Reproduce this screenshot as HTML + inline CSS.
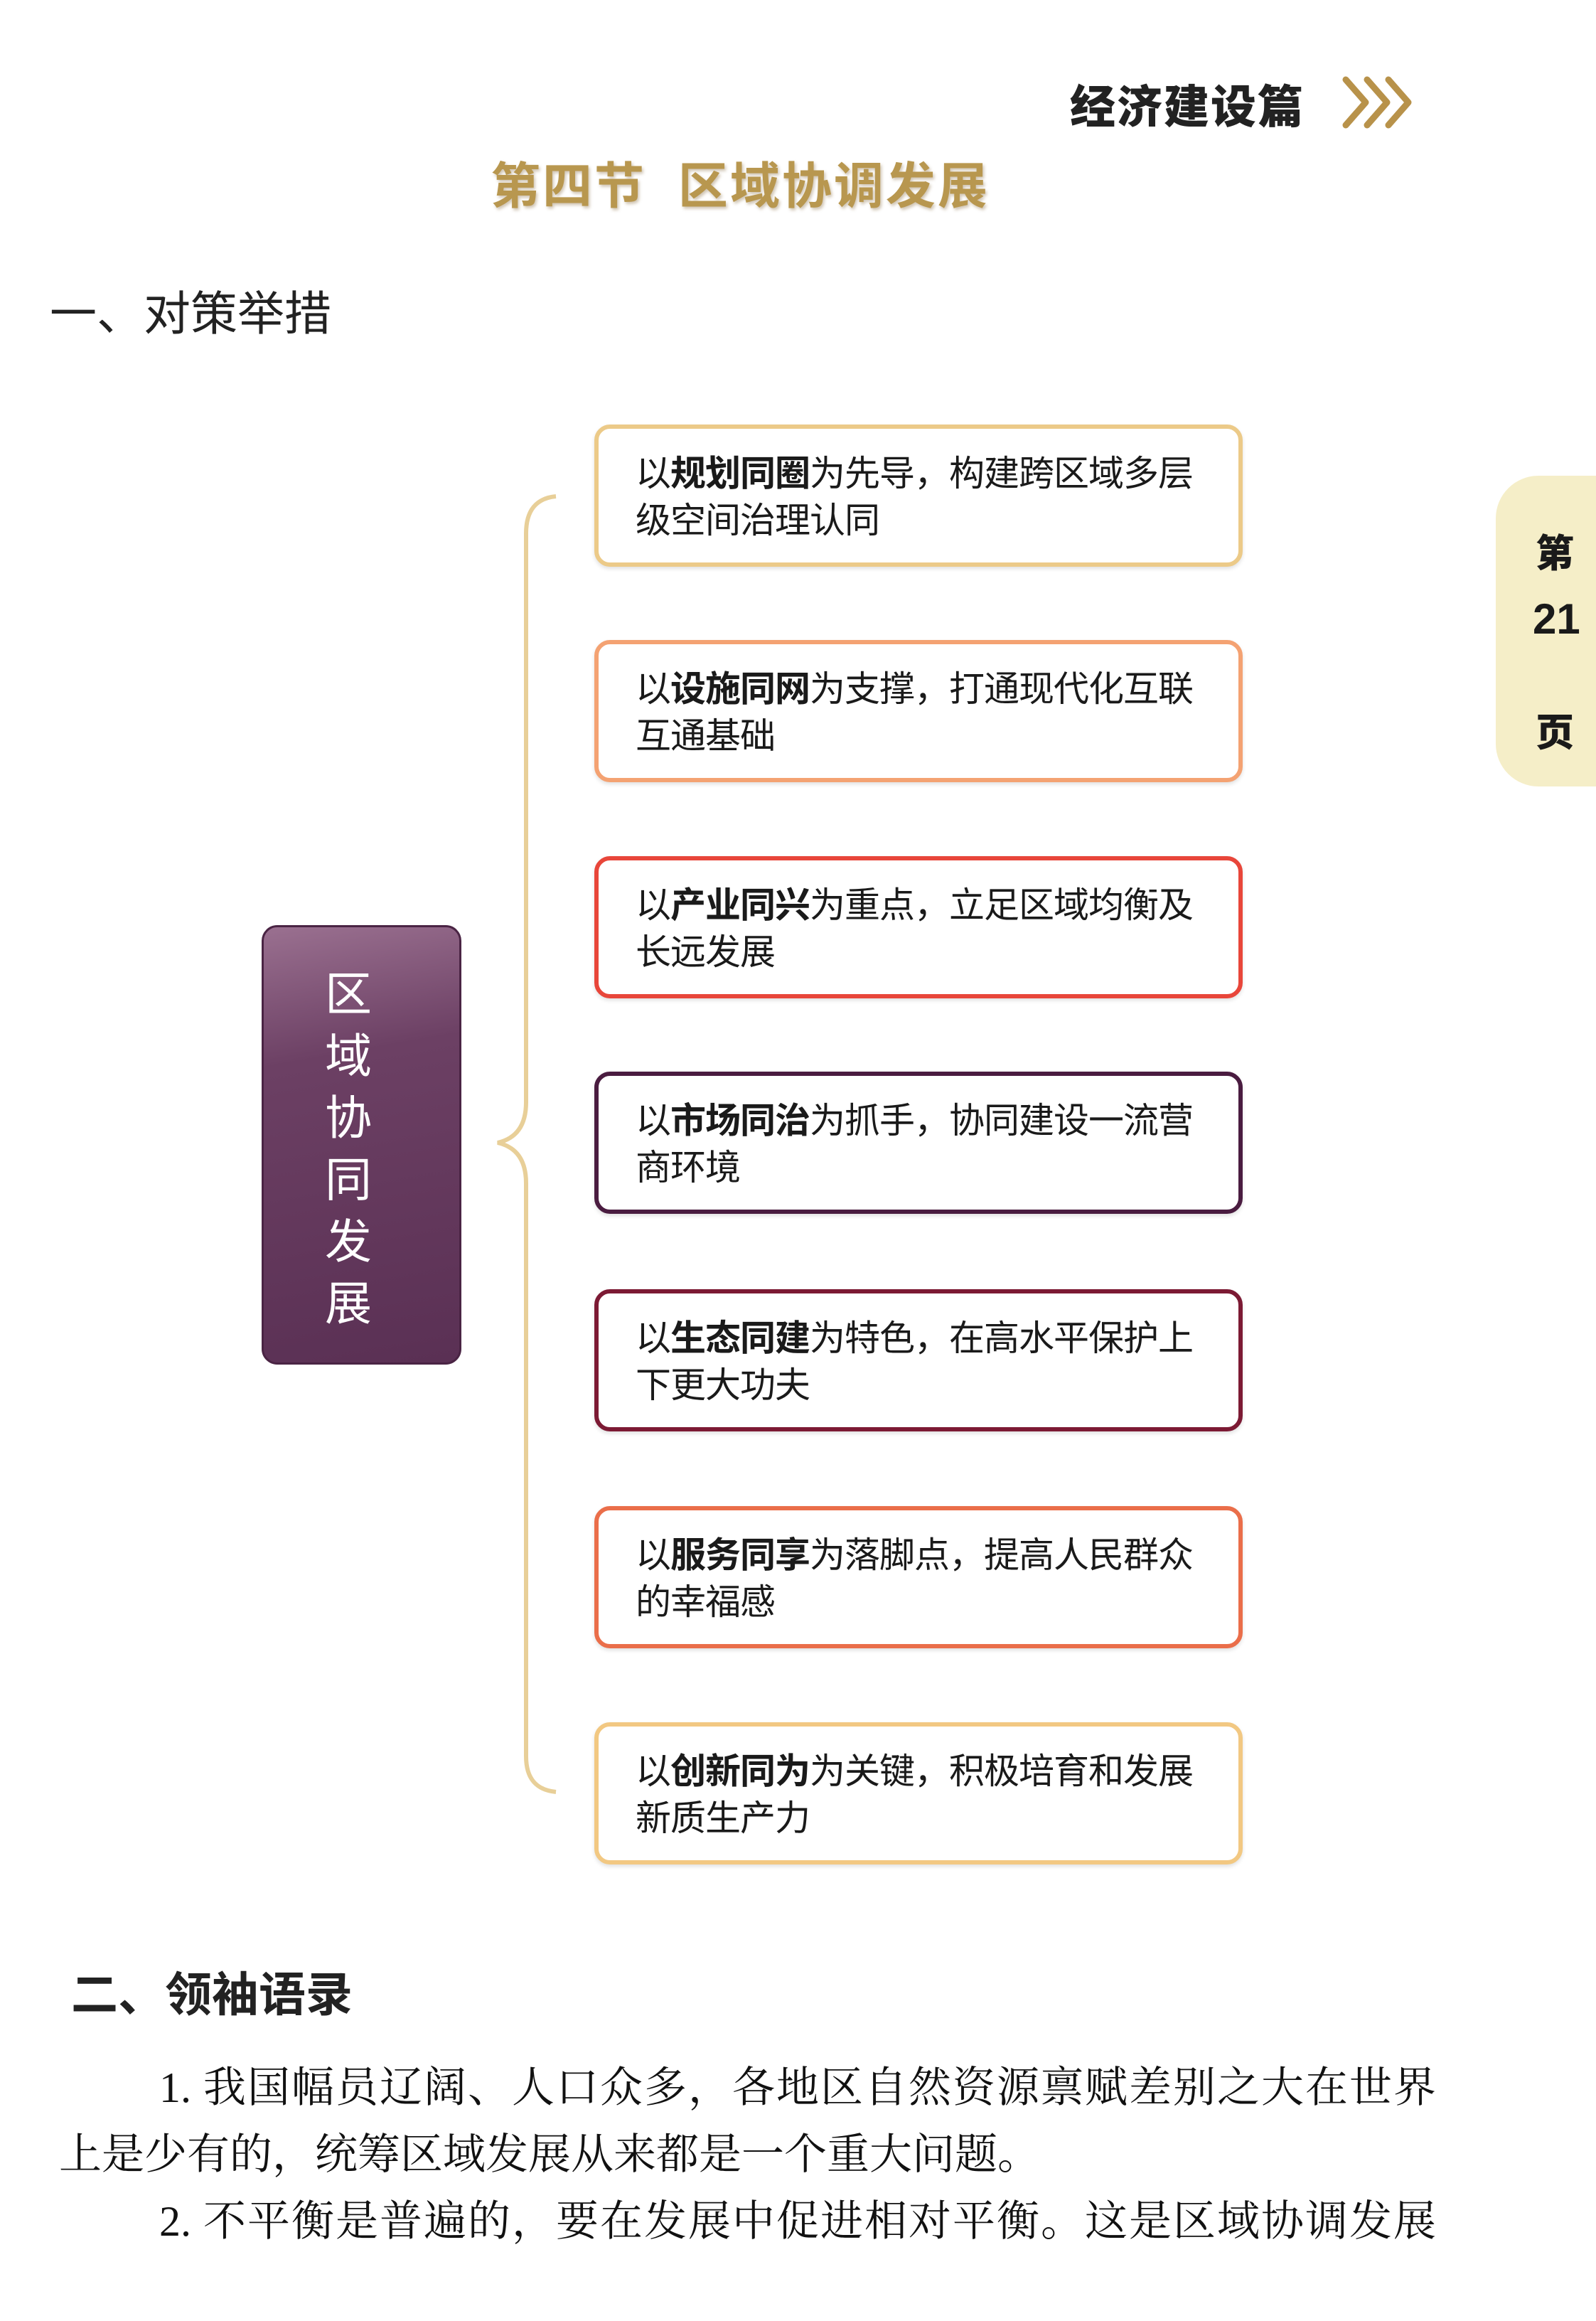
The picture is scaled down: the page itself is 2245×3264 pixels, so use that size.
<!DOCTYPE html>
<html><head><meta charset="utf-8"><style>
*{margin:0;padding:0;box-sizing:border-box}
body{width:2245px;height:3264px;background:#fff;position:relative;overflow:hidden;font-family:"Liberation Sans","Noto Sans CJK SC",sans-serif;color:#1a1a1a}
.a{position:absolute;white-space:nowrap}
.box{position:absolute;left:836px;width:912px;height:200px;border:6px solid;border-radius:22px;background:#fff;padding:30px 0 0 52px;font-size:50px;line-height:66px;letter-spacing:-1px;box-shadow:0 3px 6px rgba(0,0,0,.12)}
.box b{font-weight:700}
.p{position:absolute;font-family:"Liberation Serif","Noto Serif CJK SC",serif;font-size:60px;color:#111;text-align:justify;text-align-last:justify;white-space:nowrap;letter-spacing:0}
</style></head><body>
<div class="a" style="left:1505px;top:100px;font-size:64px;font-weight:900;color:#222;letter-spacing:2px">经济建设篇</div>
<svg class="a" style="left:1885px;top:106px" width="110" height="76" viewBox="0 0 110 76"><g fill="none" stroke="#b8924a" stroke-width="9" stroke-linecap="round" stroke-linejoin="round"><path d="M8 6 L36 38 L8 70"/><path d="M38 6 L66 38 L38 70"/><path d="M68 6 L96 38 L68 70"/></g></svg>
<div class="a" style="left:690px;top:206px;font-size:70px;font-weight:700;color:#b8974f;letter-spacing:3px;text-shadow:2px 3px 4px rgba(120,90,40,.35)">第四节&nbsp;&nbsp;区域协调发展</div>
<div class="a" style="left:70px;top:388px;font-size:66px;color:#222">一、对策举措</div>
<div class="a" style="left:2104px;top:669px;width:160px;height:437px;background:#f5eec8;border-radius:60px 0 0 60px"></div>
<div class="a" style="left:2160px;top:734px;font-size:54px;font-weight:900">第</div>
<div class="a" style="left:2156px;top:836px;font-size:60px;font-weight:700">21</div>
<div class="a" style="left:2160px;top:986px;font-size:54px;font-weight:900">页</div>
<svg class="a" style="left:680px;top:680px" width="120" height="1860" viewBox="0 0 120 1860"><path d="M102 18 Q60 22 60 70 L60 870 Q60 918 20 927 Q60 936 60 984 L60 1790 Q60 1836 102 1840" fill="none" stroke="#e8cf98" stroke-width="6"/></svg>
<div class="a" style="left:368px;top:1301px;width:281px;height:618px;border-radius:22px;background:linear-gradient(170deg,#9a7090 0%,#6c4064 30%,#5a3054 100%);border:3px solid #4a2444"></div>
<div class="a" style="left:455px;top:1355px;font-size:66px;line-height:87px;color:#fff;white-space:normal;width:70px;text-align:center">区域协同发展</div>
<div class="box" style="top:597px;border-color:#ecca88">以<b>规划同圈</b>为先导，构建跨区域多层<br>级空间治理认同</div>
<div class="box" style="top:900px;border-color:#f4a272">以<b>设施同网</b>为支撑，打通现代化互联<br>互通基础</div>
<div class="box" style="top:1204px;border-color:#e8463a">以<b>产业同兴</b>为重点，立足区域均衡及<br>长远发展</div>
<div class="box" style="top:1507px;border-color:#4a1c40">以<b>市场同治</b>为抓手，协同建设一流营<br>商环境</div>
<div class="box" style="top:1813px;border-color:#7c1a34">以<b>生态同建</b>为特色，在高水平保护上<br>下更大功夫</div>
<div class="box" style="top:2118px;border-color:#ea6e4a">以<b>服务同享</b>为落脚点，提高人民群众<br>的幸福感</div>
<div class="box" style="top:2422px;border-color:#f2c882">以<b>创新同为</b>为关键，积极培育和发展<br>新质生产力</div>
<div class="a" style="left:100px;top:2752px;font-size:66px;font-weight:600;color:#222">二、领袖语录</div>
<div class="p" style="left:224px;top:2888px;width:1796px">1. 我国幅员辽阔、人口众多，各地区自然资源禀赋差别之大在世界</div>
<div class="p" style="left:83px;top:2982px">上是少有的，统筹区域发展从来都是一个重大问题。</div>
<div class="p" style="left:224px;top:3076px;width:1796px">2. 不平衡是普遍的，要在发展中促进相对平衡。这是区域协调发展</div>
</body></html>
